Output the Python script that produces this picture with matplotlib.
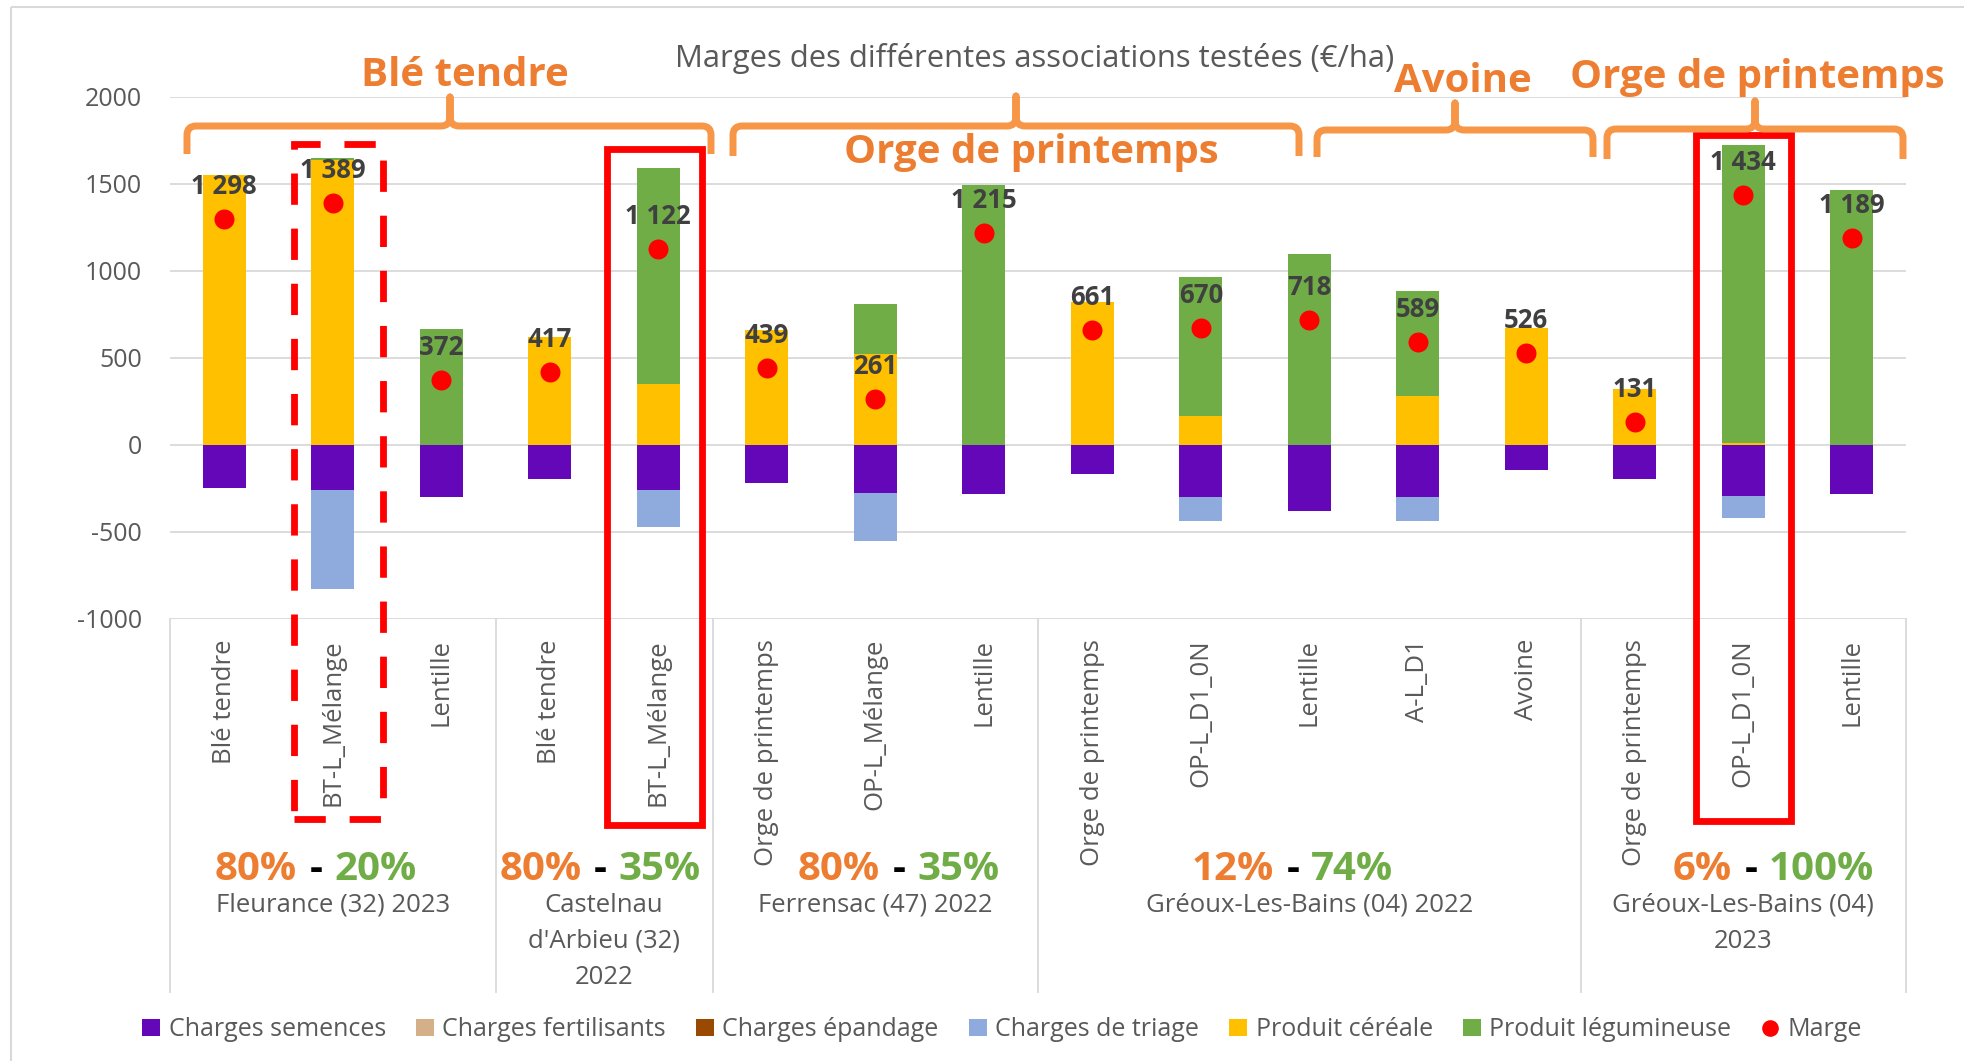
import matplotlib
matplotlib.use("Agg")
import matplotlib.pyplot as plt
import numpy as np
from matplotlib.path import Path
from matplotlib.patches import PathPatch, Rectangle, Patch
from matplotlib.lines import Line2D
from matplotlib.transforms import Affine2D

plt.rcParams['font.family'] = ['Open Sans', 'DejaVu Sans']
plt.rcParams['axes.unicode_minus'] = False

# ---------------- data ----------------
categories = ["Blé tendre", "BT-L_Mélange", "Lentille",
              "Blé tendre", "BT-L_Mélange",
              "Orge de printemps", "OP-L_Mélange", "Lentille",
              "Orge de printemps", "OP-L_D1_0N", "Lentille", "A-L_D1", "Avoine",
              "Orge de printemps", "OP-L_D1_0N", "Lentille"]
charges_semences = [-249, -262, -297, -199, -262, -220, -276, -281,
                    -168, -297, -379, -297, -142, -195, -291, -281]
charges_fertilisants = [0] * 16
charges_epandage = [0] * 16
charges_triage = [0, -565, 0, 0, -211, 0, -279, 0,
                  0, -141, 0, -141, 0, 0, -130, 0]
produit_cereale = [1547, 1634, 0, 621, 352, 658, 521, 0,
                   821, 165, 0, 281, 668, 320, 10, 0]
produit_legumineuse = [0, 12, 665, 0, 1238, 0, 290, 1490,
                       0, 798, 1093, 601, 0, 0, 1712, 1462]
marge = [1298, 1389, 372, 417, 1122, 439, 261, 1215,
         661, 670, 718, 589, 526, 131, 1434, 1189]

group_sizes = [3, 2, 3, 5, 3]
group_places = [["Fleurance (32) 2023"],
                ["Castelnau", "d'Arbieu (32)", "2022"],
                ["Ferrensac (47) 2022"],
                ["Gréoux-Les-Bains (04) 2022"],
                ["Gréoux-Les-Bains (04)", "2023"]]
pct_cereal = ["80%", "80%", "80%", "12%", "6%"]
pct_legume = ["20%", "35%", "35%", "74%", "100%"]
pct_x = [0.85, 3.47, 6.22, 9.85, 14.07]

crop_titles = ["Blé tendre", "Orge de printemps", "Avoine", "Orge de printemps"]

series_names = ["Charges semences", "Charges fertilisants", "Charges épandage",
                "Charges de triage", "Produit céréale", "Produit légumineuse"]
colors = {"Charges semences": "#6407B8", "Charges fertilisants": "#D5AF88",
          "Charges épandage": "#9A4A00", "Charges de triage": "#8FAADC",
          "Produit céréale": "#FFC000", "Produit légumineuse": "#70AD47"}

# ---------------- figure ----------------
W, H = 1964, 1061
fig = plt.figure(figsize=(W / 100, H / 100), dpi=100)
PL, PR, PT, PB = 170, 1906, 96.5, 619
ax = fig.add_axes([PL / W, 1 - PB / H, (PR - PL) / W, (PB - PT) / H])

# pixel (top-left origin) transform
ptrans = Affine2D().scale(1 / 100, -1 / 100).translate(0, H / 100) + fig.dpi_scale_trans

def fx(px):
    return px / W

def fy(py):
    return 1 - py / H

# chart border (left / top visible)
fig.patches.append(Rectangle((11, 7), 2000, 1100, transform=ptrans, fill=False,
                             edgecolor="#D9D9D9", lw=1.5))

x = np.arange(len(categories))
bw = 0.4
sem = np.array(charges_semences, float)
fer = np.array(charges_fertilisants, float)
epa = np.array(charges_epandage, float)
tri = np.array(charges_triage, float)
cer = np.array(produit_cereale, float)
leg = np.array(produit_legumineuse, float)

ax.bar(x, sem, bw, color=colors["Charges semences"], lw=0, zorder=2)
ax.bar(x, fer, bw, bottom=sem, color=colors["Charges fertilisants"], lw=0, zorder=2)
ax.bar(x, epa, bw, bottom=sem + fer, color=colors["Charges épandage"], lw=0, zorder=2)
ax.bar(x, tri, bw, bottom=sem + fer + epa, color=colors["Charges de triage"], lw=0, zorder=2)
ax.bar(x, cer, bw, color=colors["Produit céréale"], lw=0, zorder=2)
ax.bar(x, leg, bw, bottom=cer, color=colors["Produit légumineuse"], lw=0, zorder=2)
ax.plot(x, marge, linestyle="none", marker="o", ms=14.4, color="#FF0000",
        markeredgewidth=0, zorder=4)

for xi, m in zip(x, marge):
    ax.annotate(f"{m:,}".replace(",", " "), (xi, m), xytext=(0, 23.5),
                textcoords="offset points", ha="center", va="center",
                fontsize=18.5, fontweight="bold", color="#404040", zorder=6,
                annotation_clip=False)

ax.set_xlim(-0.5, len(categories) - 0.5)
ax.set_ylim(-1000, 2000)
ax.set_yticks(np.arange(-1000, 2001, 500))
ax.set_xticks(x)
ax.set_xticklabels(categories, rotation=90, fontsize=18.5, color="#595959")
ax.tick_params(axis="x", length=0, pad=14.4)
ax.tick_params(axis="y", length=0, pad=20, labelsize=18, labelcolor="#595959")
ax.yaxis.grid(True, color="#D9D9D9", lw=1.3)
ax.set_axisbelow(True)
for s in ax.spines.values():
    s.set_visible(False)

# category separators
xt = ax.get_xaxis_transform()
edges = np.concatenate([[0], np.cumsum(group_sizes)]) - 0.5
ybot = -(992 - PB) / (PB - PT)
for e in edges:
    ax.plot([e, e], [0, ybot], transform=xt, color="#D9D9D9", lw=1.3, clip_on=False)

# group place labels and percentages
starts = np.concatenate([[0], np.cumsum(group_sizes)[:-1]])
for gi, (st, n) in enumerate(zip(starts, group_sizes)):
    cx = st + (n - 1) / 2
    for li, line in enumerate(group_places[gi]):
        ax.text(cx, (PB - (912 + 36 * li)) / (PB - PT), line, transform=xt,
                ha="center", va="baseline", fontsize=18.5, color="#595959")
    yb = (PB - 880) / (PB - PT)
    ax.text(pct_x[gi], yb, "-", transform=xt, ha="center", va="baseline",
            fontsize=29, fontweight="bold", color="black")
    ax.annotate(pct_cereal[gi], (pct_x[gi], yb), xycoords=xt, xytext=(-14, 0),
                textcoords="offset points", ha="right", va="baseline",
                fontsize=29, fontweight="bold", color="#ED7D31", annotation_clip=False)
    ax.annotate(pct_legume[gi], (pct_x[gi], yb), xycoords=xt, xytext=(13, 0),
                textcoords="offset points", ha="left", va="baseline",
                fontsize=29, fontweight="bold", color="#70AD47", annotation_clip=False)

# highlight rectangles (data coords around bars 1, 4 and 14)
highlights = [(1.05, 0.41, 1729, -2150, (0, (4.6, 3.5))),
              (3.965, 0.435, 1701, -2185, "solid"),
              (14.0, 0.44, 1781, -2160, "solid")]
for cx, hw, top, bot, ls in highlights:
    ax.add_patch(Rectangle((cx - hw, bot), 2 * hw, top - bot, fill=False,
                           edgecolor="#FF0000", lw=4.9, linestyle=ls,
                           clip_on=False, zorder=7, joinstyle="miter"))

# curly braces (pixel coords)
def brace(x0, x1, xm, yh, yb, yt, r=9):
    verts = [(x0, yb), (x0, yh + r), (x0, yh), (x0 + r, yh),
             (xm - r, yh), (xm, yh), (xm, yh - r), (xm, yt),
             (xm, yh - r), (xm, yh), (xm + r, yh),
             (x1 - r, yh), (x1, yh), (x1, yh + r), (x1, yb)]
    codes = [Path.MOVETO, Path.LINETO, Path.CURVE3, Path.CURVE3,
             Path.LINETO, Path.CURVE3, Path.CURVE3, Path.LINETO,
             Path.LINETO, Path.CURVE3, Path.CURVE3,
             Path.LINETO, Path.CURVE3, Path.CURVE3, Path.LINETO]
    return Path(verts, codes)

braces = [(187, 711, 450, 126, 154, 97),
          (733, 1299, 1016, 126, 156, 96),
          (1317, 1593, 1455, 130, 157, 103),
          (1607, 1903, 1755, 129, 159, 101)]
for b in braces:
    fig.patches.append(PathPatch(brace(*b), transform=ptrans, fill=False,
                                 edgecolor="#F79646", lw=5.0, capstyle="butt",
                                 joinstyle="round"))

title_pos = [(464.5, 86), (1031, 163), (1462.5, 92), (1757.5, 88)]
for t, (px, py) in zip(crop_titles, title_pos):
    fig.text(fx(px), fy(py), t, ha="center", va="baseline", fontsize=29,
             fontweight="bold", color="#ED7D31")

fig.text(fx(1034.5), fy(67), "Marges des différentes associations testées (€/ha)",
         ha="center", va="baseline", fontsize=22.3, color="#595959")

# legend
handles = [Patch(facecolor=colors[n], edgecolor="none", label=n) for n in series_names]
handles.append(Line2D([], [], linestyle="none", marker="o", ms=12, color="#FF0000",
                      markeredgewidth=0, label="Marge"))
fig.legend(handles=handles, loc="center", bbox_to_anchor=(fx(1002), fy(1030)),
           ncol=7, frameon=False, fontsize=18, labelcolor="#595959",
           handlelength=0.72, handleheight=0.68, handletextpad=0.34,
           columnspacing=1.2, borderpad=0)

fig.savefig("out.png", dpi=100)
